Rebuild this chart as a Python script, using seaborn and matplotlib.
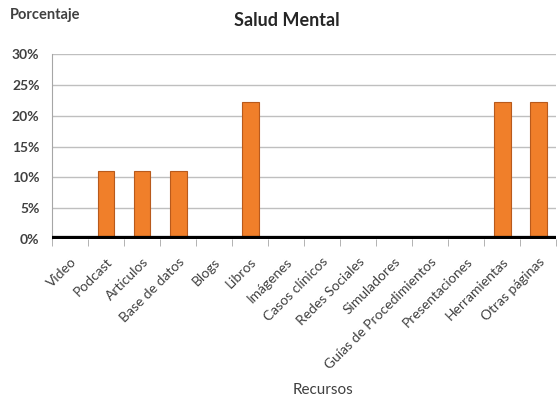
import numpy as np
import pandas as pd
import matplotlib
matplotlib.use("Agg")
import matplotlib.pyplot as plt
import seaborn as sns
from matplotlib.ticker import PercentFormatter, FixedLocator

# data (share of resources, %)
recursos = ["Video", "Podcast", "Artículos", "Base de datos", "Blogs", "Libros",
            "Imágenes", "Casos clínicos", "Redes Sociales", "Simuladores",
            "Guías de Procedimientos", "Presentaciones", "Herramientas", "Otras páginas"]
porcentaje = [0, 11.1, 11.1, 11.1, 0, 22.2, 0, 0, 0, 0, 0, 0, 22.2, 22.2]

df = pd.DataFrame({"Recursos": recursos, "Porcentaje": porcentaje})

sns.set_style("white")
plt.rcParams["font.family"] = ["Lato", "DejaVu Sans"]

fig = plt.figure(figsize=(5.59, 4.0), dpi=100)
ax = fig.add_axes([0.093, 0.4025, 0.902, 0.4625])

sns.barplot(data=df, x="Recursos", y="Porcentaje", color="#F07F2A", saturation=1,
            width=0.47, edgecolor="#B85A1C", linewidth=0.8, ax=ax, zorder=3)

ax.set_ylim(0, 30)
ax.set_xlim(-0.5, len(recursos) - 0.5)
ax.set_yticks(np.arange(0, 31, 5))
ax.yaxis.set_major_formatter(PercentFormatter(decimals=0))
ax.yaxis.grid(True, color="#BFBFBF", linewidth=1, zorder=0)
ax.set_axisbelow(True)

# floor band
ax.axhline(0, color="black", linewidth=4.5, zorder=4)

for s in ["top", "right"]:
    ax.spines[s].set_visible(False)
ax.spines["left"].set_color("#A6A6A6")
ax.spines["bottom"].set_visible(False)

ax.tick_params(axis="y", length=4, color="#A6A6A6", labelsize=10, pad=5)
ax.tick_params(axis="x", which="major", length=0, labelsize=10, pad=12)
ax.xaxis.set_minor_locator(FixedLocator(np.arange(-0.5, len(recursos), 1)))
ax.tick_params(axis="x", which="minor", length=5, color="#A6A6A6", bottom=True)
for lbl in ax.get_yticklabels():
    lbl.set_fontweight("bold")
    lbl.set_color("#404040")
plt.setp(ax.get_xticklabels(), rotation=45, ha="right", rotation_mode="anchor",
         color="#404040")

ax.set_xlabel("")
ax.set_ylabel("")
fig.text(0.577, 0.025, "Recursos", ha="center", va="center",
         fontsize=11, color="#404040")
fig.text(0.513, 0.948, "Salud Mental", ha="center", va="center",
         fontsize=13, fontweight="bold", color="#262626")
fig.text(0.018, 0.962, "Porcentaje", ha="left", va="center",
         fontsize=10.5, fontweight="bold", color="#404040")

fig.savefig("out.png", dpi=100)
